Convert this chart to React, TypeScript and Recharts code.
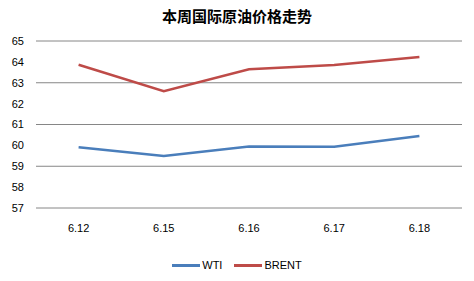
import { LineChart, Line, XAxis, YAxis, CartesianGrid } from 'recharts'

const dates = ['6.12', '6.15', '6.16', '6.17', '6.18']
const wti = [59.91, 59.49, 59.95, 59.93, 60.45]
const brent = [63.86, 62.6, 63.65, 63.85, 64.23]
const yTicks = [57, 58, 59, 60, 61, 62, 63, 64, 65]

const series = [
  { key: 'WTI', color: '#4a7ebb' },
  { key: 'BRENT', color: '#be4b48' },
]

const data = dates.map((d, i) => ({ date: d, WTI: wti[i], BRENT: brent[i] }))

const FONT = '"Liberation Sans", Arial, sans-serif'

export default function App() {
  return (
    <div style={{ position: 'absolute', left: 0, top: 0, width: 474, height: 281, background: '#fff' }}>
      <div
        style={{
          position: 'absolute', top: 6, left: 0, width: 474, textAlign: 'center',
          fontFamily: '"Noto Sans CJK SC", sans-serif', fontWeight: 'bold', fontSize: 15, lineHeight: '20px',
        }}
      >
        本周国际原油价格走势
      </div>
      <LineChart width={474} height={281} data={data} margin={{ top: 41, right: 12, left: 0, bottom: 43 }}>
        <CartesianGrid stroke="#868686" vertical={false} />
        <XAxis
          dataKey="date"
          scale="band"
          axisLine={false}
          tickLine={false}
          height={30}
          tick={{ fontSize: 11, fill: '#000', fontFamily: FONT }}
          tickMargin={10}
        />
        <YAxis
          domain={[57, 65]}
          ticks={yTicks}
          width={36}
          axisLine={false}
          tickLine={false}
          tick={{ fontSize: 11, fill: '#000', fontFamily: FONT }}
          tickMargin={6}
        />
        {series.map((s) => (
          <Line key={s.key} dataKey={s.key} stroke={s.color} strokeWidth={2.5} dot={false} isAnimationActive={false} />
        ))}
      </LineChart>
      {/* legend sits under the axis labels, like the spreadsheet original */}
      <div
        style={{
          position: 'absolute', top: 257, left: 0, width: 474, display: 'flex', justifyContent: 'center',
          gap: 12, fontFamily: FONT, fontSize: 11, lineHeight: '16px',
        }}
      >
        {series.map((s) => (
          <div key={s.key} style={{ display: 'flex', alignItems: 'center' }}>
            <span style={{ display: 'inline-block', width: 28, height: 3, background: s.color, marginRight: 2 }} />
            <span style={{ color: '#000' }}>{s.key}</span>
          </div>
        ))}
      </div>
    </div>
  )
}
